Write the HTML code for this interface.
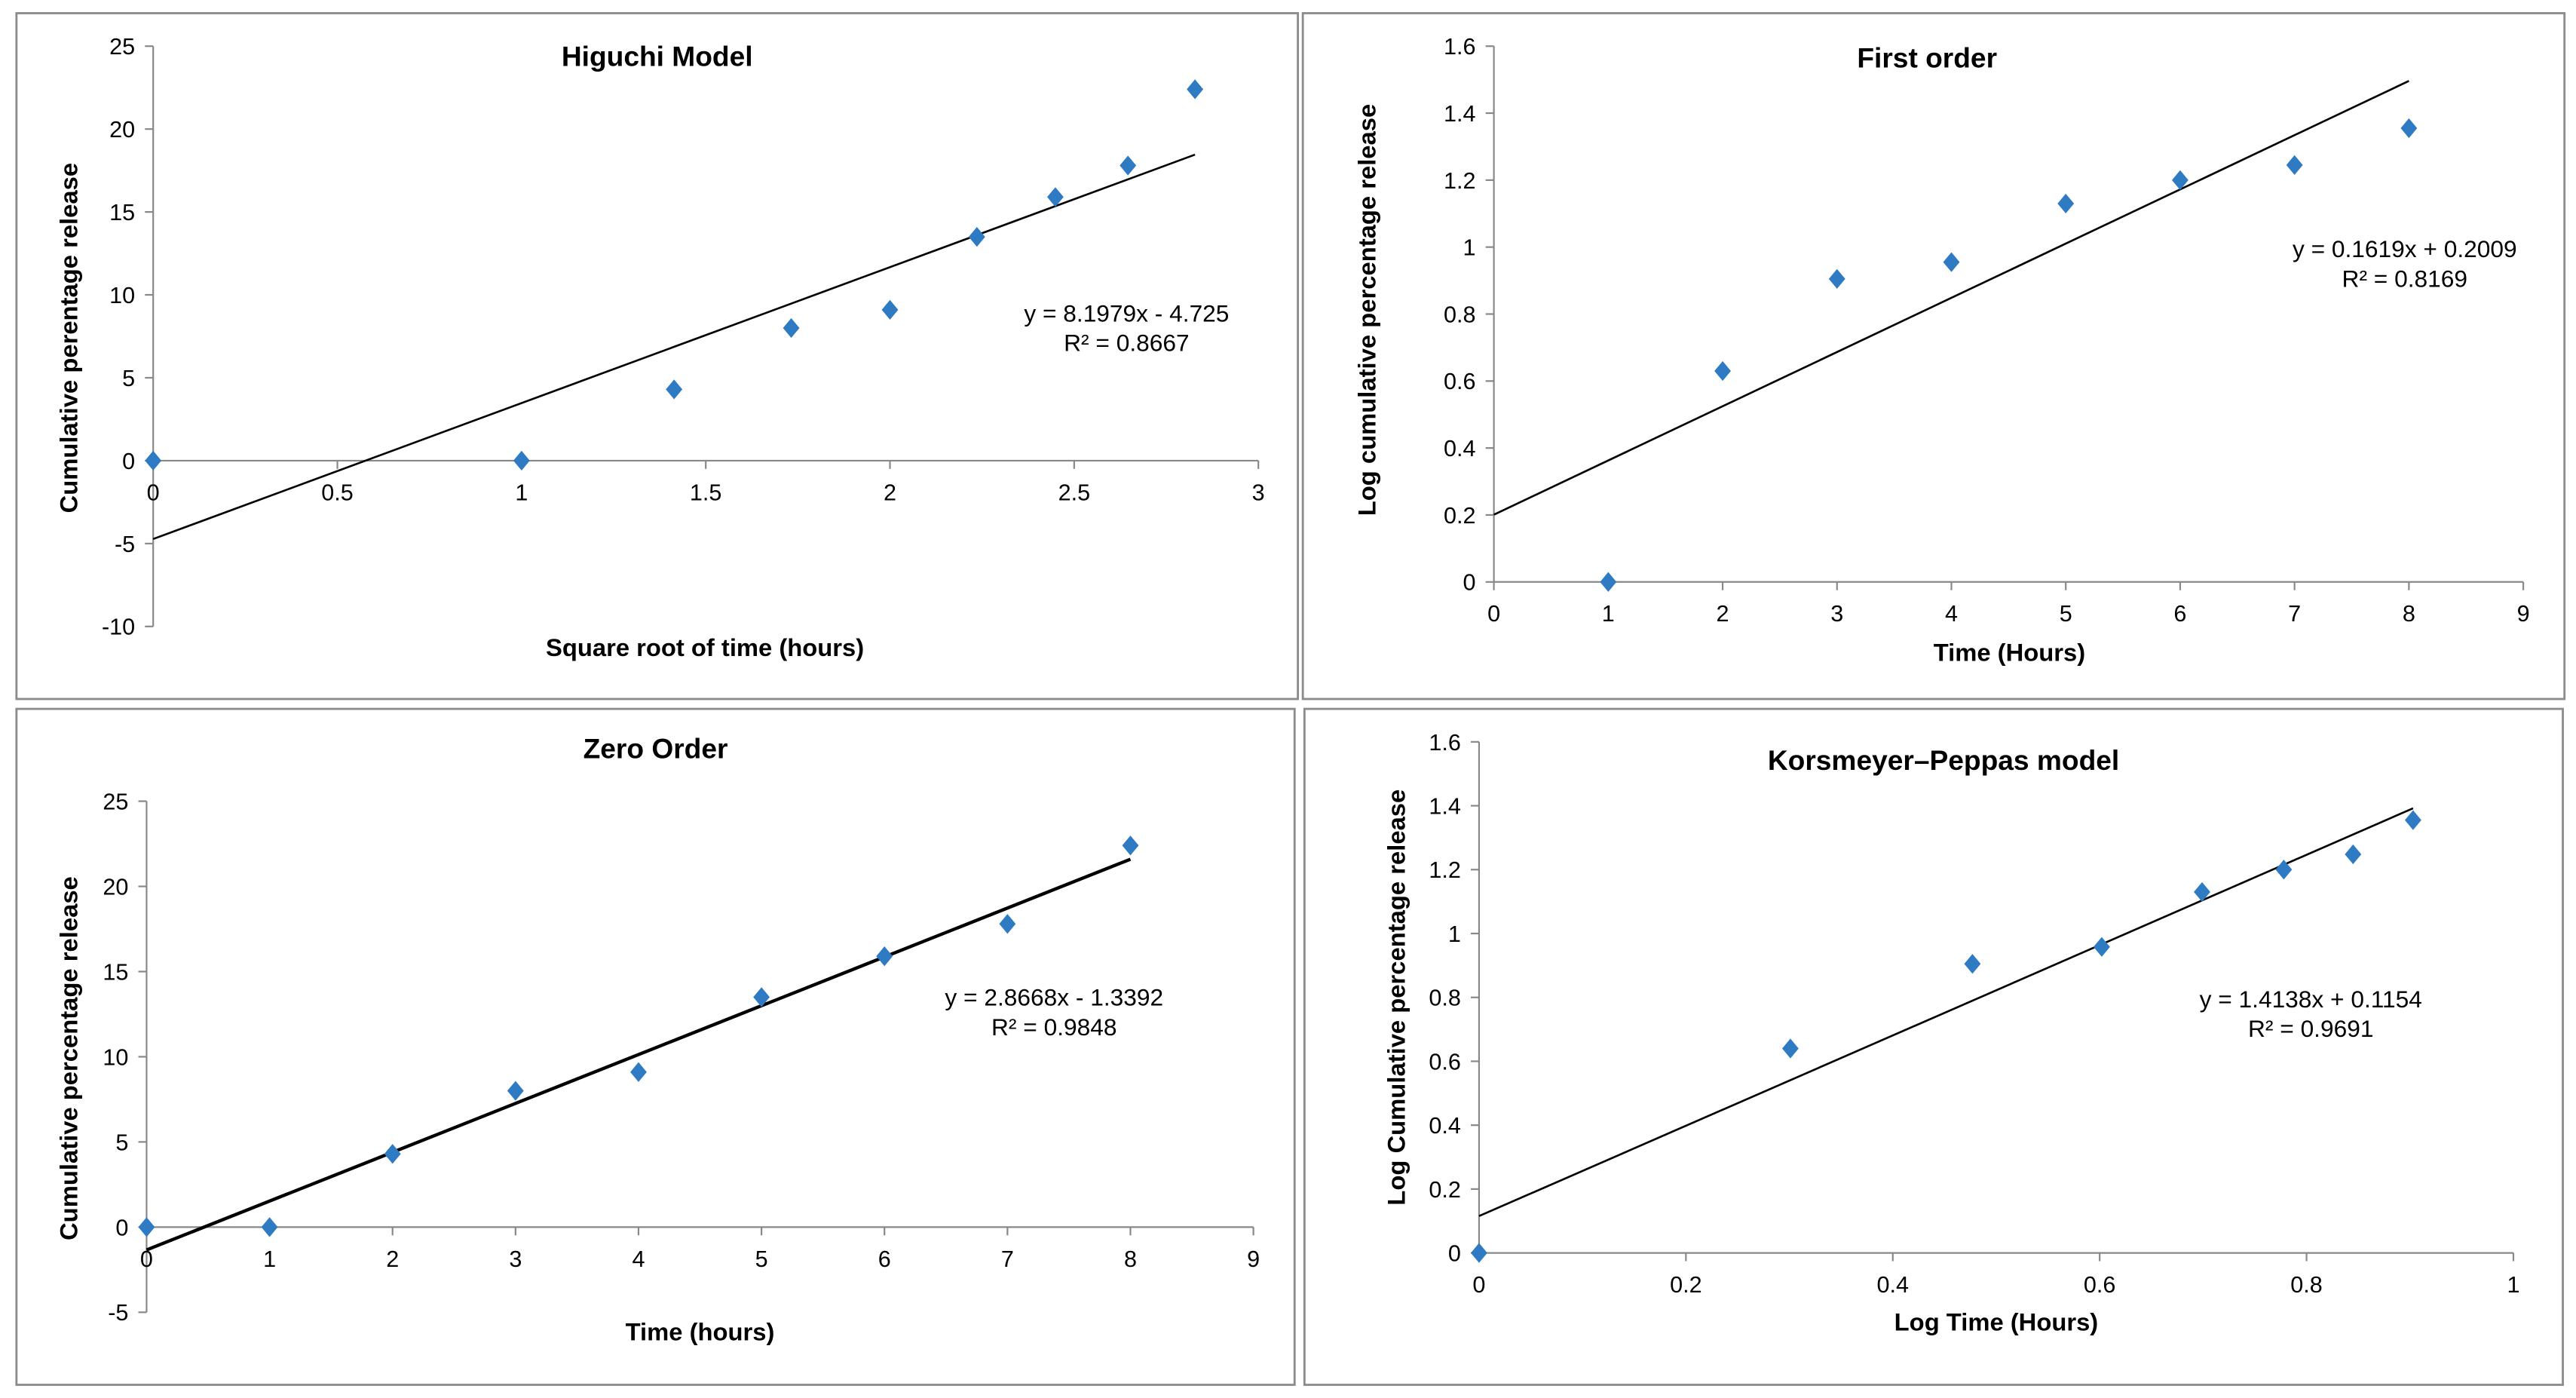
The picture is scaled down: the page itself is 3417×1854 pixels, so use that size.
<!DOCTYPE html>
<html><head><meta charset="utf-8"><style>
html,body{margin:0;padding:0;background:#fff;}
svg{display:block;}
text{font-family:"Liberation Sans",Arial,sans-serif;fill:#000;}
</style></head><body>
<svg id="c" width="3417" height="1854" viewBox="0 0 1564 848" preserveAspectRatio="none" xmlns="http://www.w3.org/2000/svg"></svg>
<script>
// Higuchi data
const higX = [0, 1, 1.414, 1.732, 2, 2.236, 2.449, 2.646, 2.828];
const higY = [0, 0, 4.3, 8, 9.1, 13.5, 15.9, 17.8, 22.4];
const higTrend = [8.1979, -4.725];
// First order data
const foX = [1, 2, 3, 4, 5, 6, 7, 8];
const foY = [0, 0.63, 0.905, 0.955, 1.13, 1.2, 1.245, 1.355];
const foTrend = [0.1619, 0.2009];
// Zero order data
const zoX = [0, 1, 2, 3, 4, 5, 6, 7, 8];
const zoY = [0, 0, 4.3, 8, 9.1, 13.5, 15.9, 17.8, 22.4];
const zoTrend = [2.8668, -1.3392];
// Korsmeyer-Peppas data
const kpX = [0, 0.301, 0.477, 0.602, 0.699, 0.778, 0.845, 0.903];
const kpY = [0, 0.64, 0.905, 0.958, 1.13, 1.2, 1.248, 1.355];
const kpTrend = [1.4138, 0.1154];
// Tick labels
const higXTicks = [0, 0.5, 1, 1.5, 2, 2.5, 3];
const higYTicks = [-10, -5, 0, 5, 10, 15, 20, 25];
const foXTicks = [0, 1, 2, 3, 4, 5, 6, 7, 8, 9];
const foYTicks = [0, 0.2, 0.4, 0.6, 0.8, 1, 1.2, 1.4, 1.6];
const zoXTicks = [0, 1, 2, 3, 4, 5, 6, 7, 8, 9];
const zoYTicks = [-5, 0, 5, 10, 15, 20, 25];
const kpXTicks = [0, 0.2, 0.4, 0.6, 0.8, 1];
const kpYTicks = [0, 0.2, 0.4, 0.6, 0.8, 1, 1.2, 1.4, 1.6];

const NS = "http://www.w3.org/2000/svg";
const svg = document.getElementById('c');
function mk(tag, attrs, parent, txt){
  const e = document.createElementNS(NS, tag);
  for (const k in attrs) e.setAttribute(k, attrs[k]);
  if (txt !== undefined) e.textContent = txt;
  (parent || svg).appendChild(e);
  return e;
}

function chart(cfg){
  const g = mk('g', {});
  
  
  const box = mk('rect', {x:cfg.box[0], y:cfg.box[1], width:cfg.box[2], height:cfg.box[3], fill:'#fff', stroke:'#8c8c8c', 'stroke-width':1.3}, g);
  
  
  const sx = v => cfg.x0 + (v - cfg.xmin) / (cfg.xmax - cfg.xmin) * (cfg.x1 - cfg.x0);
  const sy = v => cfg.y0 - (v - cfg.ymin) / (cfg.ymax - cfg.ymin) * (cfg.y0 - cfg.y1);
  const zeroY = sy(Math.max(0, cfg.ymin));
  // y axis
  const ya = mk('line', {x1:cfg.x0, x2:cfg.x0, y1:sy(cfg.ymin), y2:sy(cfg.ymax), stroke:'#888', 'stroke-width':1}, g);
  
  
  cfg.yTicks.forEach(t => {
    const y = sy(t);
    mk('line', {x1:cfg.x0-5, x2:cfg.x0, y1:y, y2:y, stroke:'#888', 'stroke-width':1}, g);
    const tl = mk('text', {x:cfg.x0-11, y:y+5, 'font-size':14, 'text-anchor':'end'}, g, String(t));
    
    
  });
  // x axis
  const xa = mk('line', {x1:sx(cfg.xmin), x2:sx(cfg.xmax), y1:zeroY, y2:zeroY, stroke:'#888', 'stroke-width':1}, g);
  
  
  cfg.xTicks.forEach(t => {
    const x = sx(t);
    mk('line', {x1:x, x2:x, y1:zeroY, y2:zeroY+5, stroke:'#888', 'stroke-width':1}, g);
    const tl = mk('text', {x:x, y:zeroY+24, 'font-size':14, 'text-anchor':'middle'}, g, String(t));
    
    
  });
  // trend line
  const tx0 = cfg.trendFrom, tx1 = cfg.xs[cfg.xs.length-1];
  const tr = mk('line', {x1:sx(tx0), y1:sy(cfg.trend[0]*tx0+cfg.trend[1]), x2:sx(tx1), y2:sy(cfg.trend[0]*tx1+cfg.trend[1]), stroke:'#000', 'stroke-width':cfg.tw}, g);
  
  
  // points
  cfg.xs.forEach((xv, i) => {
    const x = sx(xv), y = sy(cfg.ys[i]);
    const p = mk('path', {d:`M${x} ${y-6}L${x+5} ${y}L${x} ${y+6}L${x-5} ${y}Z`, fill:'#2e7bc4'}, g);
    
    
  });
  const ti = mk('text', {x:cfg.title[0], y:cfg.title[1]+6, 'font-size':17, 'font-weight':'bold', 'text-anchor':'middle'}, g, cfg.title[2]);
  
  
  const xl = mk('text', {x:cfg.xl[0], y:cfg.xl[1]+5, 'font-size':15, 'font-weight':'bold', 'text-anchor':'middle'}, g, cfg.xl[2]);
  
  
  const yl = mk('text', {x:0, y:0, 'font-size':15, 'font-weight':'bold', 'text-anchor':'middle', transform:`translate(${cfg.yl[0]+5},${cfg.yl[1]}) rotate(-90)`}, g, cfg.yl[2]);
  
  
  const e1 = mk('text', {x:cfg.eq[0], y:cfg.eq[1]+5, 'font-size':14.5, 'text-anchor':'middle'}, g, cfg.eq[2]);
  
  
  const e2 = mk('text', {x:cfg.eq[0], y:cfg.eq[1]+23, 'font-size':14.5, 'text-anchor':'middle'}, g, cfg.eq[3]);
  
  
}

chart({name:'higuchi-chart', box:[10,8,778,416], x0:93, x1:764, xmin:0, xmax:3, y0:380, y1:28, ymin:-10, ymax:25,
  xTicks:higXTicks, yTicks:higYTicks, xs:higX, ys:higY, trend:higTrend, trendFrom:0, tw:1.2,
  title:[399,34,'Higuchi Model'], xl:[428,393,'Square root of time (hours)'], yl:[42,205,'Cumulative  perentage release'],
  eq:[684,190,'y = 8.1979x - 4.725','R² = 0.8667']});
chart({name:'first-order-chart', box:[791,8,766,416], x0:907, x1:1532, xmin:0, xmax:9, y0:353, y1:28, ymin:0, ymax:1.6,
  xTicks:foXTicks, yTicks:foYTicks, xs:foX, ys:foY, trend:foTrend, trendFrom:0, tw:1.2,
  title:[1170,35,'First order'], xl:[1220,396,'Time (Hours)'], yl:[830,188,'Log cumulative percentage release'],
  eq:[1460,151,'y = 0.1619x + 0.2009','R² = 0.8169']});
chart({name:'zero-order-chart', box:[10,430,776,410], x0:89, x1:761, xmin:0, xmax:9, y0:796, y1:486, ymin:-5, ymax:25,
  xTicks:zoXTicks, yTicks:zoYTicks, xs:zoX, ys:zoY, trend:zoTrend, trendFrom:0, tw:2,
  title:[398,454,'Zero Order'], xl:[425,808,'Time (hours)'], yl:[42,642,'Cumulative  percentage release'],
  eq:[640,605,'y = 2.8668x - 1.3392','R² = 0.9848']});
chart({name:'korsmeyer-peppas-chart', box:[792,430,764,410], x0:898, x1:1526, xmin:0, xmax:1, y0:760, y1:450, ymin:0, ymax:1.6,
  xTicks:kpXTicks, yTicks:kpYTicks, xs:kpX, ys:kpY, trend:kpTrend, trendFrom:0, tw:1.2,
  title:[1180,461,'Korsmeyer–Peppas model'], xl:[1212,802,'Log Time (Hours)'], yl:[848,605,'Log Cumulative  percentage release'],
  eq:[1403,606,'y = 1.4138x + 0.1154','R² = 0.9691']});
</script>
</body></html>
